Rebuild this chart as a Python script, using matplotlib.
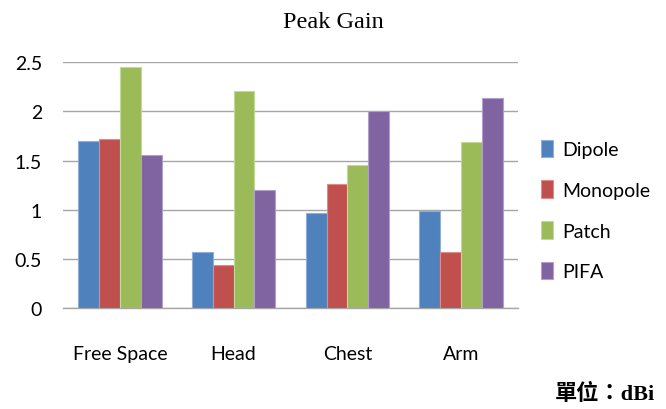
import numpy as np
import matplotlib.pyplot as plt

categories = ['Free Space', 'Head', 'Chest', 'Arm']
antennas = ['Dipole', 'Monopole', 'Patch', 'PIFA']
dipole = [1.70, 0.57, 0.97, 0.99]
monopole = [1.72, 0.44, 1.26, 0.57]
patch = [2.45, 2.21, 1.46, 1.69]
pifa = [1.56, 1.20, 2.00, 2.14]
yticks = [0, 0.5, 1, 1.5, 2, 2.5]
ytick_labels = ['0', '0.5', '1', '1.5', '2', '2.5']

series = [dipole, monopole, patch, pifa]
colors = ['#4F81BD', '#C0504D', '#9BBB59', '#8064A2']
edges = ['#8FAEDA', '#DE8C8A', '#C3D99A', '#B09ECB']

label_font = ['Lato', 'DejaVu Sans']

fig = plt.figure(figsize=(6.66, 4.10), dpi=100)
ax = fig.add_axes([63 / 666, 1 - 309 / 410, 455 / 666, (309 - 63.3) / 410])

x = np.arange(len(categories))
width = 0.733 / 4
for i, (vals, c, ec, name) in enumerate(zip(series, colors, edges, antennas)):
    ax.bar(x + (i - 1.5) * width, vals, width, color=c, edgecolor=ec,
           linewidth=0.8, label=name, zorder=3)

ax.set_xlim(-0.5, 3.5)
ax.set_ylim(0, 2.5)
ax.set_yticks(yticks)
ax.set_yticklabels(ytick_labels, family=label_font, fontsize=14)
ax.set_xticks(x)
ax.set_xticklabels(categories, family=label_font, fontsize=14)
ax.tick_params(axis='both', length=0)
ax.tick_params(axis='y', pad=15)
ax.tick_params(axis='x', pad=27)

ax.grid(axis='y', color='#A6A6A6', linewidth=1.0, zorder=0)
for side in ['left', 'right', 'top']:
    ax.spines[side].set_visible(False)
ax.spines['bottom'].set_color('#A6A6A6')
ax.spines['bottom'].set_linewidth(1.0)

fig.text(0.5, 1 - 22 / 410, 'Peak Gain', ha='center', va='center',
         family='Liberation Serif', fontsize=17.5)

fig.legend(loc='center left', bbox_to_anchor=(523 / 666, 1 - 211 / 410),
           frameon=False, prop={'family': label_font, 'size': 14},
           handlelength=0.65, handleheight=1.0, handletextpad=0.45,
           labelspacing=1.15)

fig.text(655 / 666, 1 - 394 / 410, '單位：dBi', ha='right', va='center',
         family=['Liberation Serif', 'Noto Sans CJK TC'],
         fontweight='bold', fontsize=16)

fig.savefig('out.png', dpi=100)
